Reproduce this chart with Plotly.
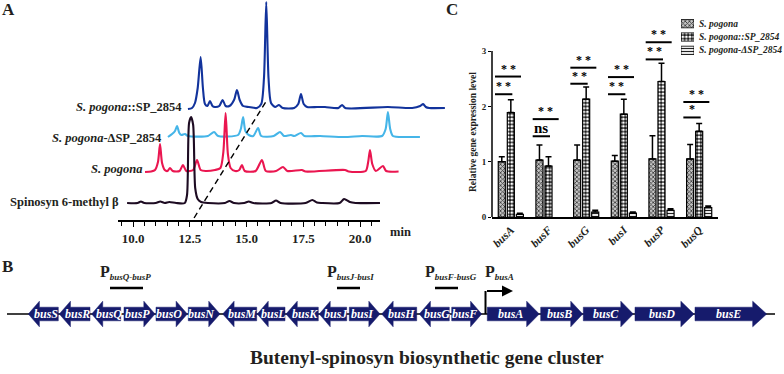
import plotly.graph_objects as go

# ------------------------------------------------------------------ data
# Panel A: HPLC chromatograms (retention time in min, signal in mAU-like units above baseline)
BLACK_T = [9.74, 10.2, 10.35, 10.5, 11.0, 11.2, 11.4, 11.6, 11.9, 12.28, 12.38, 12.47, 12.56, 12.65, 12.74, 12.85,
           13.0, 13.3, 14.05, 14.25, 14.45, 14.9, 15.1, 15.3, 16.1, 16.3, 16.5, 17.6, 17.9, 18.1, 18.3, 19.1, 19.3,
           19.55, 19.8, 20.88]
BLACK_H = [0, 0, 1.5, 0, 0, 1.5, 0, 1, 0, 0, 8, 80, 86, 78, 15, 4,
           1, 0, 0, 2, 0, 0, 1.5, 0, 0, 2.5, 0, 0, 3, 0.5, 0, 0, 4,
           1, 0, 0]

RED_T = [9.73, 10.0, 10.17, 10.3, 10.39, 10.48, 10.6, 10.72, 10.83, 10.95, 11.25, 11.4, 11.55, 11.85, 12.02, 12.18,
         12.4, 12.81, 13.05, 13.18, 13.28, 13.38, 13.5, 13.7, 13.88, 14.0, 14.12, 14.6, 14.88, 15.05, 15.5, 15.81,
         16.0, 16.64, 16.8, 18.54, 18.7, 19.45, 19.56, 19.64, 19.74, 19.9, 20.21, 20.35, 20.9]
RED_H = [0, 0.5, 2, 10, 28, 9, 2, 1, 4, 1, 1, 7, 1, 2, 12, 2,
         1, 2, 4, 20, 59, 18, 4, 1, 2, 7, 1, 1, 12, 1, 1, 5,
         1, 2, 0.5, 2, 0.5, 1, 10, 22, 8, 1, 6, 1, 0.5]

LB_T = [9.74, 9.92, 10.05, 10.14, 10.24, 10.33, 10.49, 10.62, 11.5, 11.77, 11.95, 12.83, 12.95, 13.05, 13.15, 13.3,
        13.5, 13.71, 13.85, 14.4, 14.68, 14.85, 15.16, 15.3, 15.6, 15.75, 16.44, 17.5, 18.29, 19.17, 19.33, 19.43,
        19.53, 19.65, 20.3, 20.84]
LB_H = [0, 3, 6, 11, 4, 2, 3, 1, 1, 5, 1, 2, 8, 20, 6, 2,
        1, 9, 1, 1, 5, 1, 2, 1, 4, 1, 1, 0, 1, 1, 8, 25,
        8, 1, 0, 0]

DB_T = [9.72, 9.9, 10.03, 10.15, 10.28, 10.38, 10.47, 10.58, 10.69, 10.8, 10.91, 11.1, 11.25, 11.38, 11.55, 11.75,
        11.88, 12.0, 12.15, 12.4, 12.76, 12.95, 13.07, 13.17, 13.27, 13.38, 13.56, 13.73, 13.9, 14.4, 14.58, 14.7,
        14.82, 14.97, 15.41, 15.76, 16.35, 16.51, 16.65, 18.53, 19.6, 19.95, 20.08, 20.2, 20.35, 21.04]
DB_H = [-1, 0, 5, 20, 51, 20, 4, 2, 7, 2, 1, 2, 8, 2, 2, 8,
        18, 8, 2, 1, 0, 4, 30, 106, 30, 5, 1, 3, 0, 0, 4, 14,
        4, 1, 1, 1, 0, 3, 0, 1, 0, 2, 4, 1, 0, 0]

CHROM_NAMES = ["Spinosyn 6-methyl β", "<i>S. pogona</i>", "<i>S. pogona</i>-ΔSP_2854", "<i>S. pogona</i>::SP_2854"]
RT_TICKS = [10.0, 12.5, 15.0, 17.5, 20.0]
GUIDE_T = [12.69, 15.90]     # dashed guide across the stacked traces (display min)
GUIDE_V = [2, 120]

# Panel C: qRT-PCR
QPCR_GENES = ["busA", "busF", "busG", "busI", "busP", "busQ"]
SERIES = ["S. pogona", "S. pogona::SP_2854", "S. pogona-ΔSP_2854"]
WT = [1.00, 1.03, 1.03, 1.01, 1.05, 1.05]
WT_ERR = [0.09, 0.27, 0.27, 0.10, 0.42, 0.26]
OE = [1.89, 0.92, 2.13, 1.86, 2.45, 1.55]
OE_ERR = [0.23, 0.17, 0.22, 0.27, 0.33, 0.14]
KO = [0.05, None, 0.09, 0.07, 0.12, 0.17]
KO_ERR = [0.02, None, 0.03, 0.02, 0.03, 0.03]
SIG_UP_Y = [2.54, 1.77, 2.70, 2.53, 3.16, 2.08]
SIG_UP_TXT = ["* *", "* *", "* *", "* *", "* *", "* *"]
SIG_LO_Y = [2.22, 1.46, 2.41, 2.22, 2.85, 1.80]
SIG_LO_TXT = ["* *", "ns", "* *", "* *", "* *", "*"]
Y_TICKS = [0, 1, 2, 3]

# Panel B: gene cluster (kb)
GENES = ["busS", "busR", "busQ", "busP", "busO", "busN", "busM", "busL", "busK", "busJ", "busI", "busH",
         "busG", "busF", "busA", "busB", "busC", "busD", "busE"]
G_START = [2.13, 5.23, 8.47, 11.7, 14.9, 18.13, 21.57, 25.03, 27.9, 31.23, 34.23, 37.47,
           41.23, 44.47, 48.03, 53.37, 57.63, 62.8, 68.8]
G_END = [5.13, 8.3, 11.37, 14.8, 18.03, 21.3, 24.97, 27.8, 31.13, 33.97, 37.3, 40.97,
         44.23, 47.47, 53.23, 57.57, 62.63, 68.7, 75.97]
G_STRAND = [-1, -1, -1, 1, 1, 1, -1, -1, -1, -1, 1, -1, -1, 1, 1, 1, 1, 1, 1]
CLUSTER_SPAN = [0.0, 76.8]
PROMOTERS = ["busQ-busP", "busJ-busI", "busF-busG"]
PROM_FROM = [10.3, 33.0, 42.8]
PROM_TO = [13.6, 35.3, 45.1]
PBUSA_FROM, PBUSA_TO = 47.85, 50.6

# ------------------------------------------------------------------ layout helpers
W, H = 784, 374
SERIF = "Liberation Serif"
INK = "#231f20"


def fx(p):
    return p / W


def fy(p):
    return 1 - p / H


T0_PX, PX_PER_MIN = 133, 22.7


def t_at(p):
    return 10 + (p - T0_PX) / PX_PER_MIN


def kb_at(p):
    return (p - 7) / 10.0


fig = go.Figure()
shapes, annos = [], []


def note(**kw):
    kw.setdefault("xanchor", "center")
    kw.setdefault("yanchor", "middle")
    kw.setdefault("showarrow", False)
    annos.append(kw)


# ------------------------------------------------------------------ Panel A
# invisible anchor trace so the retention-time axis subplot is drawn
fig.add_trace(go.Scatter(x=RT_TICKS, y=[0] * len(RT_TICKS), mode="markers", marker=dict(opacity=0),
                         xaxis="x", yaxis="y", hoverinfo="skip", showlegend=False))
chrom = [
    dict(t=DB_T, h=DB_H, shift=2.7, base=112, color="#12339c"),
    dict(t=LB_T, h=LB_H, shift=1.8, base=83, color="#45b5e8"),
    dict(t=RED_T, h=RED_H, shift=0.8, base=48, color="#ea1650"),
    dict(t=BLACK_T, h=BLACK_H, shift=0.0, base=17, color="#1d0b22"),
]
for c in chrom:
    fig.add_trace(go.Scatter(
        x=[t + c["shift"] for t in c["t"]], y=[c["base"] + v for v in c["h"]],
        mode="lines", line=dict(color=c["color"], width=2.1, shape="spline", smoothing=0.7),
        xaxis="x2", yaxis="y2", hoverinfo="skip", showlegend=False))
fig.add_trace(go.Scatter(x=GUIDE_T, y=GUIDE_V, mode="lines",
                         line=dict(color="black", width=1.4, dash="6px,4px"),
                         xaxis="x2", yaxis="y2", hoverinfo="skip", showlegend=False))

label_pos = [(121, 202), (144, 169), (164, 137.5), (184, 107.5)]
for name, (rx, ry) in zip(CHROM_NAMES, label_pos):
    note(text=name, x=fx(rx), y=fy(ry), xref="paper", yref="paper", xanchor="right",
         font=dict(family=SERIF, size=12.5, color=INK, weight="bold"))
note(text="min", x=fx(400), y=fy(232), xref="paper", yref="paper",
     font=dict(family=SERIF, size=12.5, color=INK, weight="bold"))

# ------------------------------------------------------------------ Panel C
styles = [
    dict(color="#b0b0b0", pattern=dict(shape="x", fgcolor="#333333", bgcolor="#c4c4c4", size=3, solidity=0.45)),
    dict(color="#111111", pattern=dict(shape=".", fgcolor="#ffffff", bgcolor="#151515", size=3.6, solidity=0.5)),
    dict(color="#ffffff", pattern=dict(shape="-", fgcolor="#222222", bgcolor="#ffffff", size=3, solidity=0.4)),
]
vals = [WT, OE, KO]
errs = [WT_ERR, OE_ERR, KO_ERR]
xs = list(range(len(QPCR_GENES)))
for s, v, e, st in zip(SERIES, vals, errs, styles):
    fig.add_trace(go.Bar(
        x=xs, y=v, name=s, xaxis="x3", yaxis="y3",
        marker=dict(color=st["color"], pattern=st["pattern"], line=dict(color="black", width=1.2)),
        error_y=dict(type="data", array=e, arrayminus=[0] * len(e), symmetric=False,
                     color="black", thickness=1.5, width=3),
        hoverinfo="skip", showlegend=False))

# manual legend swatches
for i, (s, st) in enumerate(zip(SERIES, styles)):
    fig.add_trace(go.Bar(
        x=[1], y=[i], orientation="h", width=0.62, offsetgroup="leg", xaxis="x4", yaxis="y4",
        marker=dict(color=st["color"], pattern=st["pattern"], line=dict(color="black", width=0.8)),
        hoverinfo="skip", showlegend=False))
    note(text="<i>" + s + "</i>", x=fx(697), y=fy(23.5 + 13.5 * i), xref="paper", yref="paper",
         xanchor="left", font=dict(family=SERIF, size=9.5, color=INK, weight="bold"))

# significance marks
for i in xs:
    for yv, txt, right in ((SIG_UP_Y[i], SIG_UP_TXT[i], 0.27), (SIG_LO_Y[i], SIG_LO_TXT[i], 0.04)):
        x0, x1 = i - 0.42, i + right
        shapes.append(dict(type="line", xref="x3", yref="y3", x0=x0, x1=x1, y0=yv, y1=yv,
                           line=dict(color="black", width=2)))
        note(text=txt, x=(x0 + x1) / 2, y=yv, xref="x3", yref="y3",
             yanchor="bottom", yshift=-1 if txt != "ns" else -2,
             font=dict(family=SERIF, size=15 if txt == "ns" else 12, color="#000000", weight="bold"))

# y axis line (0..3)
shapes.append(dict(type="line", xref="paper", yref="y3", x0=fx(492), x1=fx(492), y0=0, y1=3,
                   line=dict(color="black", width=1.5)))
note(text="Relative gene expression level", x=fx(473), y=fy(132), xref="paper", yref="paper",
     textangle=-90, font=dict(family=SERIF, size=9.5, color=INK, weight="bold"))

# ------------------------------------------------------------------ Panel B
NAVY = "#161b6c"
fig.add_trace(go.Scatter(x=CLUSTER_SPAN, y=[0, 0], mode="lines", line=dict(color="black", width=1.5),
                         xaxis="x5", yaxis="y5", hoverinfo="skip", showlegend=False))
HB, HH = 0.34, 0.64
for g, s, e, d in zip(GENES, G_START, G_END, G_STRAND):
    hl = 0.9 + 0.07 * (e - s)
    if d > 0:
        px_ = [s, e - hl, e - hl, e, e - hl, e - hl, s, s]
    else:
        px_ = [e, s + hl, s + hl, s, s + hl, s + hl, e, e]
    py_ = [-HB, -HB, -HH, 0, HH, HB, HB, -HB]
    fig.add_trace(go.Scatter(x=px_, y=py_, mode="lines", fill="toself", fillcolor=NAVY,
                             line=dict(color=NAVY, width=0.5), xaxis="x5", yaxis="y5",
                             hoverinfo="skip", showlegend=False))
    note(text=g, x=(s + e) / 2 - d * 0.25, y=0, xref="x5", yref="y5",
         font=dict(family=SERIF, size=12, color="white", weight="bold", style="italic"))

for name, a, b in zip(PROMOTERS, PROM_FROM, PROM_TO):
    shapes.append(dict(type="line", xref="x5", yref="y5", x0=a, x1=b, y0=1.3, y1=1.3,
                       line=dict(color="black", width=2.5)))
    note(text='P<sub><span style="font-size:9px"><i>' + name + '</i></span></sub>',
         x=a - 1.2, y=fy(272), xref="x5", yref="paper", xanchor="left",
         font=dict(family=SERIF, size=16, color=INK, weight="bold"))
note(text='P<sub><span style="font-size:9px"><i>busA</i></span></sub>',
     x=PBUSA_FROM - 0.25, y=fy(272), xref="x5", yref="paper", xanchor="left",
     font=dict(family=SERIF, size=16, color=INK, weight="bold"))
shapes.append(dict(type="line", xref="x5", yref="y5", x0=PBUSA_FROM, x1=PBUSA_FROM, y0=0, y1=1.15,
                   line=dict(color="black", width=2)))
annos.append(dict(text="", x=PBUSA_TO, y=1.15, ax=PBUSA_FROM, ay=1.15, xref="x5", yref="y5",
                  axref="x5", ayref="y5", showarrow=True, arrowhead=2, arrowsize=1.1, arrowwidth=2,
                  arrowcolor="black"))

note(text="Butenyl-spinosyn biosynthetic gene cluster", x=fx(427), y=fy(357),
     xref="paper", yref="paper", font=dict(family=SERIF, size=19.5, color=INK, weight="bold"))

# panel letters
for letter, (lx, ly) in zip("ABC", [(8.5, 10), (8, 266), (452, 10)]):
    note(text=letter, x=fx(lx), y=fy(ly), xref="paper", yref="paper",
         font=dict(family=SERIF, size=17, color=INK, weight="bold"))

# ------------------------------------------------------------------ axes
hidden = dict(visible=False, fixedrange=True, automargin=False)
fig.update_layout(
    template="none",
    width=W, height=H, margin=dict(l=0, r=0, t=0, b=0, autoexpand=False),
    paper_bgcolor="white", plot_bgcolor="rgba(0,0,0,0)",
    font=dict(family=SERIF, color=INK),
    barmode="group", bargap=0.28, bargroupgap=0.22,
    showlegend=False,
    xaxis=dict(domain=[fx(118), fx(380)], range=[t_at(118), t_at(380)], anchor="y", automargin=False,
               showline=True, linecolor="black", linewidth=2, showgrid=False, zeroline=False,
               tickmode="array", tickvals=RT_TICKS, ticktext=["%.1f" % t for t in RT_TICKS],
               ticks="outside", ticklen=5, tickwidth=1.4, tickcolor="black",
               minor=dict(tickmode="linear", tick0=10, dtick=0.5, ticks="outside", ticklen=3.5,
                          tickwidth=1.2, tickcolor="black", showgrid=False),
               tickfont=dict(family=SERIF, size=13, color=INK, weight="bold"), fixedrange=True),
    yaxis=dict(domain=[fy(220), 1], range=[0, 220], anchor="x", **hidden),
    xaxis2=dict(domain=[fx(100), fx(460)], range=[t_at(100), t_at(460)], anchor="y2", **hidden),
    yaxis2=dict(domain=[fy(220), 1], range=[0, 220], anchor="x2", **hidden),
    xaxis3=dict(domain=[fx(492), fx(718)], range=[-0.5, 5.5], anchor="y3", automargin=False,
                showline=True, linecolor="black", linewidth=1.5, showgrid=False, zeroline=False,
                tickmode="array", tickvals=xs, ticktext=QPCR_GENES, tickangle=-45, ticks="",
                tickfont=dict(family=SERIF, size=11.5, color=INK, weight="bold", style="italic"),
                fixedrange=True),
    yaxis3=dict(domain=[fy(217), fy(20)], range=[0, (217 - 20) / 55.3], anchor="x3", automargin=False,
                showline=False, showgrid=False, zeroline=False,
                tickmode="array", tickvals=Y_TICKS, ticks="outside", ticklen=3, tickwidth=1.2,
                tickcolor="black", tickfont=dict(family=SERIF, size=9, color=INK, weight="bold"),
                fixedrange=True),
    xaxis4=dict(domain=[fx(681), fx(694)], range=[0, 1], anchor="y4", **hidden),
    yaxis4=dict(domain=[fy(57), fy(17)], range=[2.5, -0.5], anchor="x4", **hidden),
    xaxis5=dict(domain=[0, 1], range=[kb_at(0), kb_at(784)], anchor="y5", **hidden),
    yaxis5=dict(domain=[fy(346), fy(282)], range=[-1.6, 1.6], anchor="x5", **hidden),
    shapes=shapes, annotations=annos,
)

# page body has a default 8px margin; remove it so the figure sits at the window origin
fig.write_html("out.html", config={"displayModeBar": False},
               post_script="document.body.style.margin='0px';")
